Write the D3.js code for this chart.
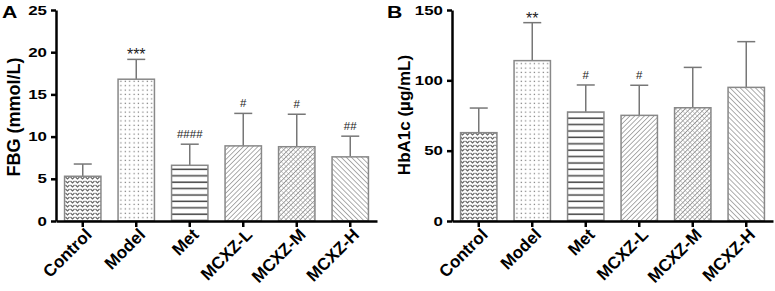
<!DOCTYPE html>
<html lang="en">
<head>
  <meta charset="UTF-8">
  <title>FBG and HbA1c</title>
  <script src="https://d3js.org/d3.v7.min.js"></script>
  <style>
    body { margin: 0; background: #fff; font-family: "Liberation Sans", Arial, sans-serif; }
    .axis path, .axis line { stroke: #000; stroke-width: 2.5px; }
    .axis text { font-weight: bold; fill: #000; }
  </style>
</head>
<body>
  <div id="chart"></div>
  <script>
    // groups and values
    const groups = ["Control", "Model", "Met", "MCXZ-L", "MCXZ-M", "MCXZ-H"];
    const fbgMean = [5.3, 16.8, 6.6, 8.9, 8.8, 7.6];
    const fbgSD = [1.45, 2.35, 2.5, 3.85, 3.85, 2.45];
    const fbgMarks = ["", "***", "####", "#", "#", "##"];
    const fbgTicks = [0, 5, 10, 15, 20, 25];

    const hbaMean = [62.8, 114, 77.5, 75.1, 80.5, 95];
    const hbaSD = [17.5, 27, 19.2, 21.4, 28.7, 32.5];
    const hbaMarks = ["", "**", "#", "#", "", ""];
    const hbaTicks = [0, 50, 100, 150];

    const W = 775, H = 291;
    const stretch = 1.3; // the source figure is a little wider than tall
    const svg = d3.select("#chart").append("svg")
      .attr("width", W).attr("height", H);

    // fill patterns, one per group
    const defs = svg.append("defs");
    const pat = (id, w, h, rot) => {
      const p = defs.append("pattern").attr("id", id)
        .attr("patternUnits", "userSpaceOnUse")
        .attr("width", w).attr("height", h);
      if (rot) p.attr("patternTransform", `rotate(${rot})`);
      p.append("rect").attr("width", w).attr("height", h).attr("fill", "#fff");
      return p;
    };
    // Control: small wavy v marks
    pat("p0", 5, 4).append("path").attr("d", "M0.5,1 L2.5,3 L4.5,1")
      .attr("fill", "none").attr("stroke", "#666").attr("stroke-width", 1.1);
    // Model: dots
    pat("p1", 4.4, 4.4).append("rect").attr("x", 1.5).attr("y", 1.5)
      .attr("width", 1.2).attr("height", 1.2).attr("fill", "#777");
    // Met: horizontal lines
    pat("p2", 8, 6.4).append("line").attr("x1", 0).attr("x2", 8)
      .attr("y1", 3).attr("y2", 3).attr("stroke", "#444").attr("stroke-width", 1.5);
    // MCXZ-L: forward diagonal
    pat("p3", 3.4, 3.4, 45).append("line").attr("x1", 0).attr("x2", 0)
      .attr("y1", 0).attr("y2", 3.4).attr("stroke", "#777").attr("stroke-width", 1.2);
    // MCXZ-M: cross hatch
    const p4 = pat("p4", 3.4, 3.4, 45);
    p4.append("line").attr("x1", 0).attr("x2", 0).attr("y1", 0).attr("y2", 3.4)
      .attr("stroke", "#666").attr("stroke-width", 1.2);
    p4.append("line").attr("x1", 0).attr("x2", 3.4).attr("y1", 0).attr("y2", 0)
      .attr("stroke", "#999").attr("stroke-width", 0.9);
    // MCXZ-H: back diagonal
    pat("p5", 3.6, 3.6, -45).append("line").attr("x1", 0).attr("x2", 0)
      .attr("y1", 0).attr("y2", 3.6).attr("stroke", "#777").attr("stroke-width", 1.2);

    function panel(opt) {
      const x = d3.scaleBand().domain(groups).range([opt.x0, opt.x1]).paddingInner(0.32).paddingOuter(0.16);
      const y = d3.scaleLinear().domain([0, opt.max]).range([221, 10]);
      const g = svg.append("g");
      const bw = x.bandwidth();
      const top = i => y(opt.mean[i] + opt.sd[i]);

      // error bars (upper only)
      const err = g.selectAll(".err").data(groups).enter().append("g");
      err.append("line")
        .attr("x1", d => x(d) + bw / 2).attr("x2", d => x(d) + bw / 2)
        .attr("y1", (d, i) => y(opt.mean[i])).attr("y2", (d, i) => top(i))
        .attr("stroke", "#777").attr("stroke-width", 1.5);
      err.append("line")
        .attr("x1", d => x(d) + bw / 2 - 9).attr("x2", d => x(d) + bw / 2 + 9)
        .attr("y1", (d, i) => top(i)).attr("y2", (d, i) => top(i))
        .attr("stroke", "#777").attr("stroke-width", 1.5);

      g.selectAll(".bar").data(groups).enter().append("rect")
        .attr("x", d => x(d)).attr("width", bw)
        .attr("y", (d, i) => y(opt.mean[i]))
        .attr("height", (d, i) => y(0) - y(opt.mean[i]))
        .attr("fill", (d, i) => `url(#p${i})`)
        .attr("stroke", "#888").attr("stroke-width", 1.5);

      // significance marks
      g.selectAll(".mark").data(groups).enter().append("text")
        .attr("x", d => x(d) + bw / 2)
        .attr("y", (d, i) => opt.marks[i].startsWith("*") ? top(i) + 1 : top(i) - 6)
        .attr("text-anchor", "middle")
        .attr("font-size", (d, i) => opt.marks[i].startsWith("*") ? 16 : 11.5)
        .attr("fill", "#222")
        .text((d, i) => opt.marks[i]);

      const ya = g.append("g").attr("class", "axis")
        .attr("transform", `translate(${opt.x0},0)`)
        .call(d3.axisLeft(y).tickValues(opt.ticks).tickSize(5).tickPadding(4).tickSizeOuter(0));
      ya.selectAll("text")
        .attr("font-size", 13)
        .attr("x", -9 / stretch)
        .attr("transform", `scale(${stretch},1)`);

      const xa = g.append("g").attr("class", "axis")
        .attr("transform", "translate(0,221)")
        .call(d3.axisBottom(x).tickSize(6).tickSizeOuter(0));
      xa.selectAll("text")
        .attr("font-size", 17)
        .attr("text-anchor", "end")
        .attr("dx", "-0.2em").attr("dy", "0.5em")
        .attr("transform", "rotate(-45)");

      g.append("text")
        .attr("transform", `translate(${opt.tx},${opt.ty}) rotate(-90)`)
        .attr("text-anchor", "middle")
        .attr("font-size", opt.tsize).attr("font-weight", "bold")
        .text(opt.title);

      g.append("text")
        .attr("transform", `translate(${opt.lx},18) scale(1.25,1)`)
        .attr("font-size", 17).attr("font-weight", "bold")
        .text(opt.letter);
    }

    panel({ x0: 56, x1: 377, max: 25, mean: fbgMean, sd: fbgSD, marks: fbgMarks,
      ticks: fbgTicks, title: "FBG (mmol/L)", tsize: 18, tx: 20, ty: 117, letter: "A", lx: 2 });
    panel({ x0: 452, x1: 773, max: 150, mean: hbaMean, sd: hbaSD, marks: hbaMarks,
      ticks: hbaTicks, title: "HbA1c (\u00b5g/mL)", tsize: 17, tx: 410, ty: 115, letter: "B", lx: 387 });
  </script>
</body>
</html>
